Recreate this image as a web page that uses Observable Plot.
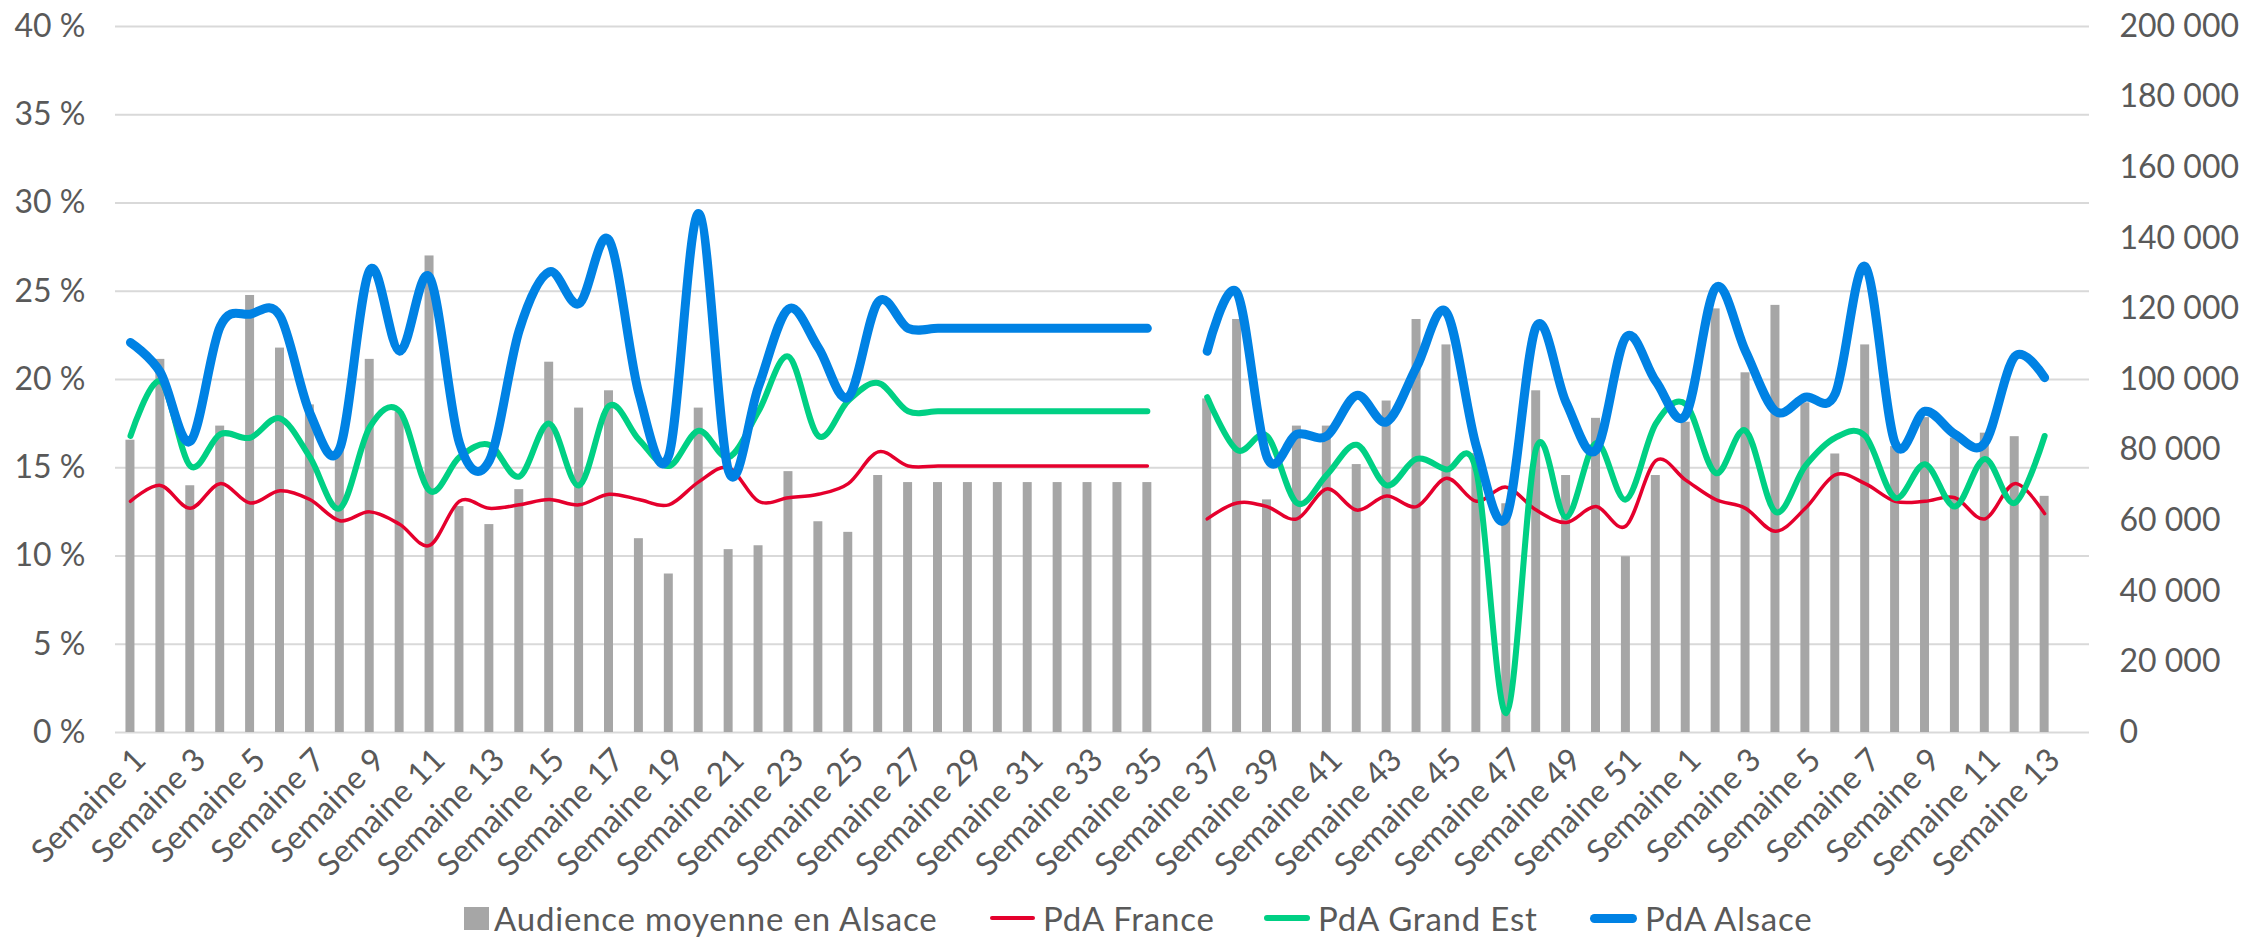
<!DOCTYPE html>
<html>
<head>
<meta charset="utf-8">
<script src="https://cdn.jsdelivr.net/npm/d3@7"></script>
<script src="https://cdn.jsdelivr.net/npm/@observablehq/plot@0.6"></script>
<style>
  html, body { margin: 0; padding: 0; background: #ffffff; }
  #wrap { position: relative; width: 2250px; height: 937px; font-family: Lato, "Open Sans", sans-serif; color: #595959; }
  #chart svg { display: block; }
  #legend { position: absolute; left: 0; top: 885px; width: 2250px; height: 52px; }
  .key { position: absolute; }
  .lbl { position: absolute; font-size: 33px; letter-spacing: 0.8px; line-height: 40px; top: 13px; white-space: nowrap; color: #595959; }
</style>
</head>
<body>
<div id="wrap">
  <div id="chart"></div>
  <div id="legend"></div>
</div>
<script>
// ---- Data ----
const weeks = [
  "Semaine 1","Semaine 2","Semaine 3","Semaine 4","Semaine 5","Semaine 6","Semaine 7","Semaine 8","Semaine 9","Semaine 10",
  "Semaine 11","Semaine 12","Semaine 13","Semaine 14","Semaine 15","Semaine 16","Semaine 17","Semaine 18","Semaine 19","Semaine 20",
  "Semaine 21","Semaine 22","Semaine 23","Semaine 24","Semaine 25","Semaine 26","Semaine 27","Semaine 28","Semaine 29","Semaine 30",
  "Semaine 31","Semaine 32","Semaine 33","Semaine 34","Semaine 35","Semaine 36","Semaine 37","Semaine 38","Semaine 39","Semaine 40",
  "Semaine 41","Semaine 42","Semaine 43","Semaine 44","Semaine 45","Semaine 46","Semaine 47","Semaine 48","Semaine 49","Semaine 50",
  "Semaine 51","Semaine 52","Semaine 1","Semaine 2","Semaine 3","Semaine 4","Semaine 5","Semaine 6","Semaine 7","Semaine 8",
  "Semaine 9","Semaine 10","Semaine 11","Semaine 12","Semaine 13","Semaine 14"
];

// Audience moyenne en Alsace (right axis)
const audienceAlsace = [
  82800,105700,69900,86800,123800,108900,92800,79900,105700,90800,
  135000,64000,58900,68800,104900,91900,96800,54900,44900,91900,
  51800,52900,73900,59700,56700,72800,70800,70800,70800,70800,
  70800,70800,70800,70800,70800,null,94500,117000,65900,86800,
  86800,75900,93900,117000,109800,79000,64800,96800,72800,89000,
  49800,72800,87900,120000,101900,121000,93400,78900,109800,81000,
  89200,83400,84800,83800,66900,null
];

// PdA France (%)
const pdaFrance = [
  13.1,14.0,12.7,14.1,13.0,13.7,13.2,12.0,12.5,11.8,
  10.6,13.1,12.7,12.9,13.2,12.9,13.5,13.2,12.9,14.2,
  15.0,13.1,13.3,13.5,14.1,15.9,15.1,15.1,15.1,15.1,
  15.1,15.1,15.1,15.1,15.1,null,12.1,13.0,12.8,12.1,
  13.8,12.6,13.4,12.8,14.4,13.1,13.9,12.6,11.9,12.8,
  11.7,15.4,14.3,13.2,12.7,11.4,12.7,14.6,14.1,13.1,
  13.1,13.3,12.1,14.1,12.4,null
];

// PdA Grand Est (%)
const pdaGrandEst = [
  16.8,19.9,15.1,16.9,16.7,17.8,15.6,12.7,17.3,18.2,
  13.7,15.6,16.3,14.5,17.5,14.0,18.5,16.6,15.1,17.1,
  15.6,18.2,21.3,16.8,18.8,19.8,18.2,18.2,18.2,18.2,
  18.2,18.2,18.2,18.2,18.2,null,19.0,16.0,16.8,13.0,
  14.6,16.3,14.0,15.5,14.9,14.8,1.1,16.1,12.2,16.4,
  13.2,17.5,18.6,14.7,17.1,12.5,15.1,16.7,16.8,13.3,
  15.2,12.8,15.5,13.0,16.8,null
];

// PdA Alsace (%)
const pdaAlsace = [
  22.1,20.4,16.5,23.0,23.7,23.6,18.1,16.1,26.2,21.6,
  25.8,16.4,15.4,22.8,26.1,24.3,27.9,19.2,15.7,29.4,
  14.8,19.6,24.0,21.8,19.0,24.4,22.9,22.9,22.9,22.9,
  22.9,22.9,22.9,22.9,22.9,null,21.6,24.9,15.6,16.9,
  16.8,19.1,17.6,20.7,23.8,16.2,12.2,23.0,18.7,16.0,
  22.4,19.9,18.0,25.2,21.6,18.2,19.0,19.2,26.4,16.4,
  18.2,16.9,16.4,21.3,20.1,null
];

const pctTicks = [0,5,10,15,20,25,30,35,40];
const audienceTicks = [0,20000,40000,60000,80000,100000,120000,140000,160000,180000,200000];
const PCT_MAX = 40, AUDIENCE_MAX = 200000;

const seriesNames = ["Audience moyenne en Alsace","PdA France","PdA Grand Est","PdA Alsace"];
const colors = { bar: "#a6a6a6", france: "#e5002d", grandEst: "#00d084", alsace: "#0082e4" };

// ---- Build table ----
const idx = d3.range(weeks.length);
const rows = idx.map(i => ({
  i,
  audience: audienceAlsace[i],
  france: pdaFrance[i],
  grandEst: pdaGrandEst[i],
  alsace: pdaAlsace[i]
}));
const toPct = v => v == null ? null : v / AUDIENCE_MAX * PCT_MAX;
const fmtThousands = v => d3.format(",")(Math.round(v)).replace(/,/g, "\u00a0");

const chart = Plot.plot({
  width: 2250,
  height: 885,
  marginLeft: 115,
  marginRight: 161,
  marginTop: 26,
  marginBottom: 153,
  style: { fontFamily: "Lato, 'Open Sans', sans-serif", fontSize: "32px", color: "#595959", background: "#ffffff", overflow: "visible" },
  x: { type: "band", domain: idx, paddingInner: 0.7, paddingOuter: 0.35, axis: null },
  y: { domain: [0, PCT_MAX], axis: null },
  marks: [
    Plot.gridY(pctTicks, { stroke: "#d9d9d9", strokeOpacity: 1, strokeWidth: 2 }),
    Plot.barY(rows.filter(d => d.audience != null), { x: "i", y: d => toPct(d.audience), fill: colors.bar }),
    Plot.lineY(rows, { x: "i", y: "france", stroke: colors.france, strokeWidth: 3.5, curve: "cardinal", strokeLinecap: "round", strokeLinejoin: "round" }),
    Plot.lineY(rows, { x: "i", y: "grandEst", stroke: colors.grandEst, strokeWidth: 6, curve: "cardinal", strokeLinecap: "round", strokeLinejoin: "round" }),
    Plot.lineY(rows, { x: "i", y: "alsace", stroke: colors.alsace, strokeWidth: 9, curve: "cardinal", strokeLinecap: "round", strokeLinejoin: "round" }),
    Plot.axisY(pctTicks, { anchor: "left", tickSize: 0, tickPadding: 30, tickFormat: d => `${d} %`, fontSize: 32, fill: "#595959" }),
    Plot.axisY(audienceTicks.map(toPct), { anchor: "right", tickSize: 0, tickPadding: 30, tickFormat: p => fmtThousands(p / PCT_MAX * AUDIENCE_MAX), fontSize: 32, fill: "#595959" }),
    Plot.text(idx.filter(i => i % 2 === 0), { x: d => d, frameAnchor: "bottom", dy: 22, dx: 10, rotate: -45, textAnchor: "end", lineAnchor: "middle", text: i => weeks[i], fontSize: 32, fill: "#595959" })
  ]
});
document.getElementById("chart").appendChild(chart);

// ---- Legend (HTML, below the SVG) ----
const legend = document.getElementById("legend");
const items = [
  { name: seriesNames[0], color: colors.bar, type: "rect", keyX: 464, keyW: 25, keyH: 23, textX: 494 },
  { name: seriesNames[1], color: colors.france, type: "line", keyX: 990, keyW: 45, keyH: 4, textX: 1043 },
  { name: seriesNames[2], color: colors.grandEst, type: "line", keyX: 1264, keyW: 46, keyH: 6, textX: 1318 },
  { name: seriesNames[3], color: colors.alsace, type: "line", keyX: 1590, keyW: 47, keyH: 9, textX: 1645 }
];
const centerY = 33;
for (const it of items) {
  const k = document.createElement("div");
  k.className = "key";
  k.style.left = it.keyX + "px";
  k.style.width = it.keyW + "px";
  k.style.height = it.keyH + "px";
  k.style.top = (centerY - it.keyH / 2) + "px";
  k.style.background = it.color;
  if (it.type === "line") k.style.borderRadius = (it.keyH / 2) + "px";
  legend.appendChild(k);
  const t = document.createElement("div");
  t.className = "lbl";
  t.style.left = it.textX + "px";
  t.textContent = it.name;
  legend.appendChild(t);
}
</script>
</body>
</html>
